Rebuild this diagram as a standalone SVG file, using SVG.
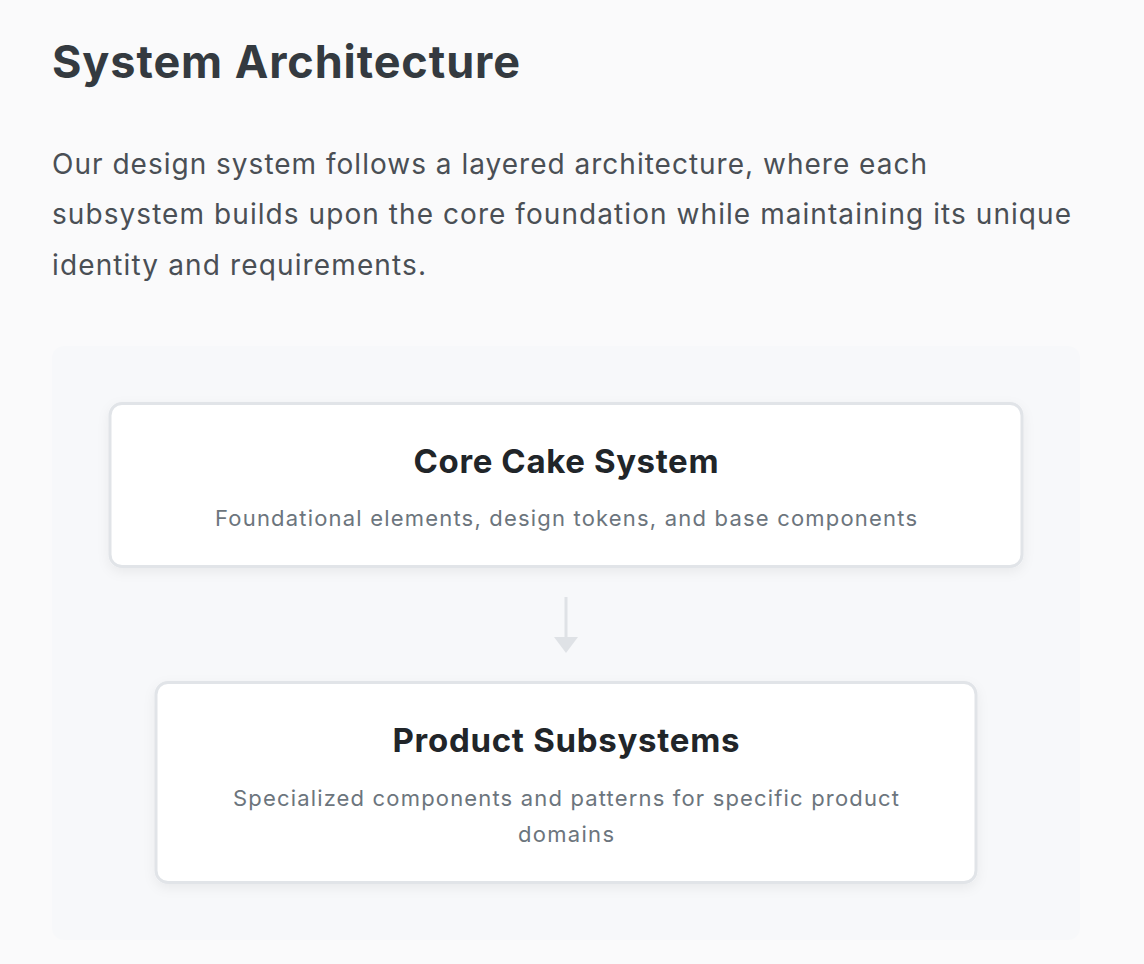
<svg xmlns="http://www.w3.org/2000/svg" width="1144" height="964" viewBox="0 0 1144 964">
<defs>
<style>
.title{font-family:Inter,"Noto Sans",sans-serif;font-weight:700;font-size:45px;fill:#343a40}
.para{font-family:Inter,"Noto Sans",sans-serif;font-size:28px;fill:#4a4f55}
.nt{font-family:Inter,"Noto Sans",sans-serif;font-weight:700;font-size:33px;fill:#212529;text-anchor:middle}
.nd{font-family:Inter,"Noto Sans",sans-serif;font-size:22px;fill:#6c757d;text-anchor:middle}
.box{fill:#ffffff;stroke:#e1e4e8;stroke-width:3}
</style>
<filter id="sh" x="-10%" y="-20%" width="120%" height="150%">
<feDropShadow dx="0" dy="4" stdDeviation="6" flood-color="#000" flood-opacity="0.06"/>
</filter>
</defs>
<rect x="0" y="0" width="1144" height="964" fill="#fafafb"/>
<text class="title" x="52" y="78" textLength="468" lengthAdjust="spacing">System Architecture</text>
<text class="para" x="52" y="174" textLength="875" lengthAdjust="spacing">Our design system follows a layered architecture, where each</text>
<text class="para" x="52" y="224" textLength="1019" lengthAdjust="spacing">subsystem builds upon the core foundation while maintaining its unique</text>
<text class="para" x="52" y="275" textLength="374" lengthAdjust="spacing">identity and requirements.</text>
<rect x="52" y="346" width="1028" height="594" rx="12" fill="#f7f8fa"/>
<g id="core">
<rect class="box" x="110" y="403.5" width="912" height="163" rx="12" filter="url(#sh)"/>
<text class="nt" x="566" y="473" textLength="305" lengthAdjust="spacing">Core Cake System</text>
<text class="nd" x="566" y="526" textLength="702" lengthAdjust="spacing">Foundational elements, design tokens, and base components</text>
</g>
<g id="connectors">
<line x1="566" y1="597" x2="566" y2="638" stroke="#dfe2e6" stroke-width="3"/>
<polygon points="554,637 578,637 566,653" fill="#dfe2e6"/>
</g>
<g id="product">
<rect class="box" x="156" y="682.5" width="820" height="200" rx="12" filter="url(#sh)"/>
<text class="nt" x="566" y="752" textLength="347" lengthAdjust="spacing">Product Subsystems</text>
<text class="nd" x="566" y="806" textLength="666" lengthAdjust="spacing">Specialized components and patterns for specific product</text>
<text class="nd" x="566" y="842" textLength="96" lengthAdjust="spacing">domains</text>
</g>
</svg>
